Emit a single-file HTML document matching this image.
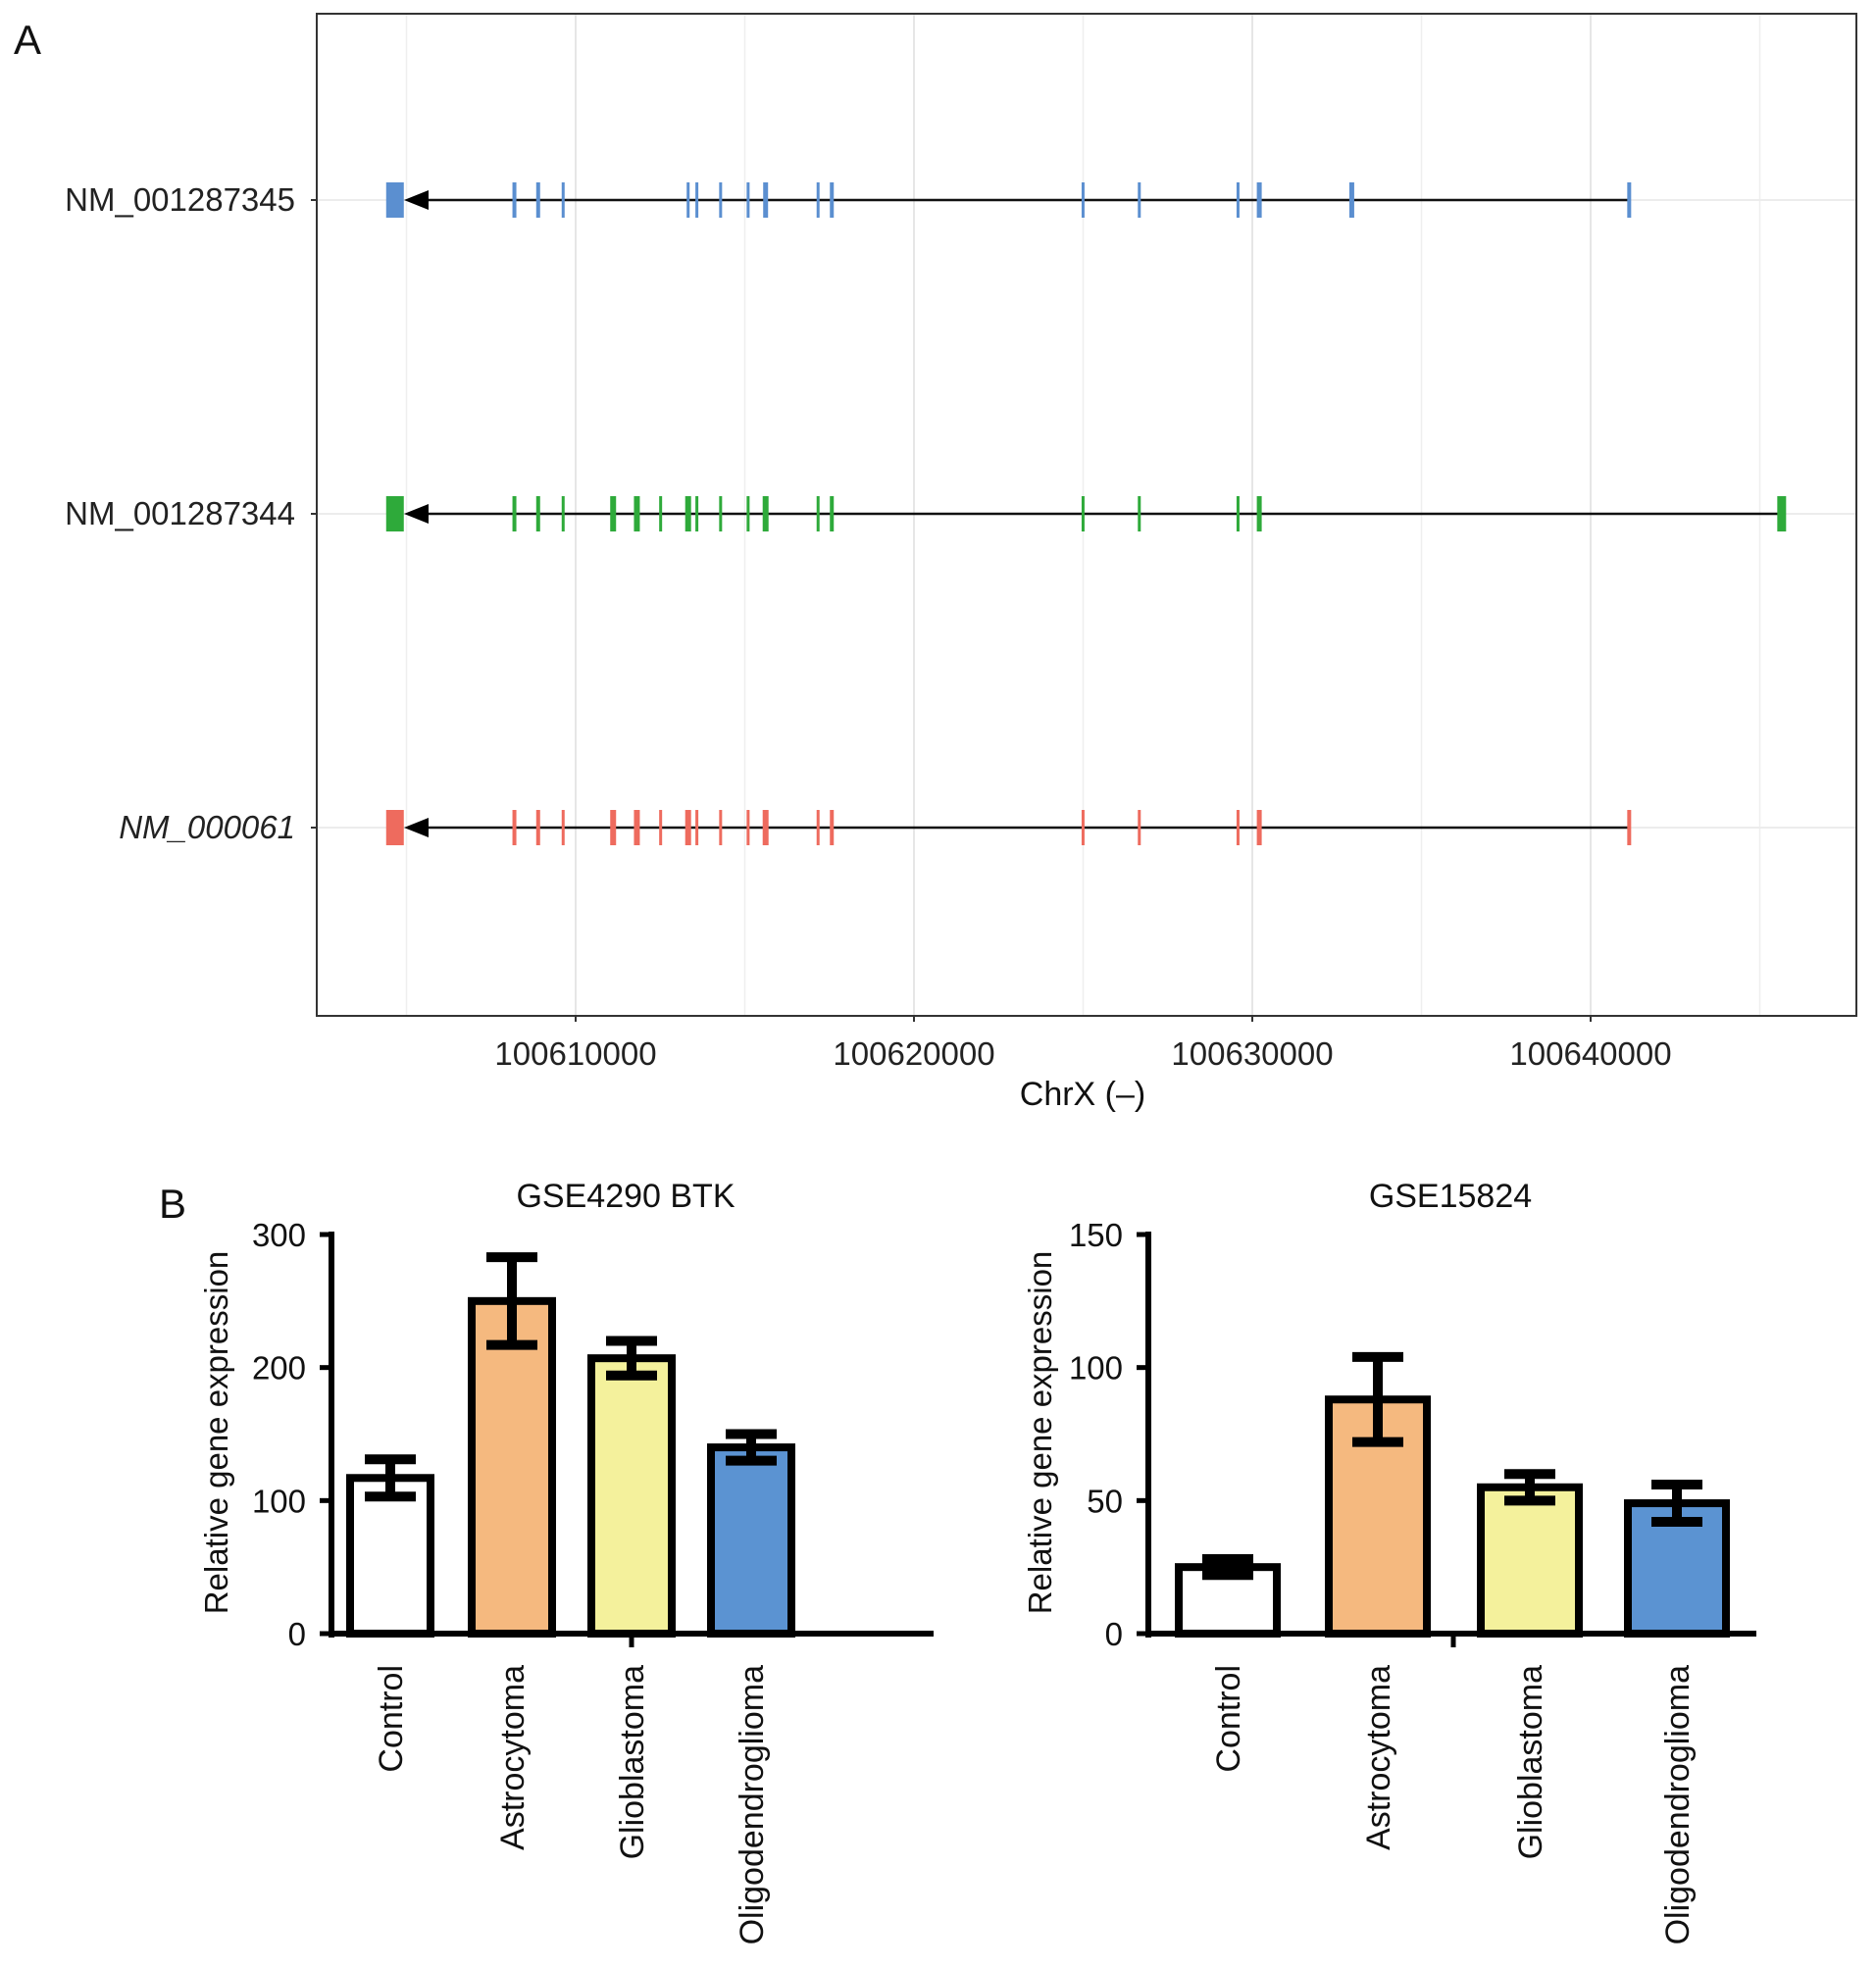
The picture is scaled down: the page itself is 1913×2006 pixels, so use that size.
<!DOCTYPE html>
<html><head><meta charset="utf-8"><style>
html,body{margin:0;padding:0;background:#fff}
svg{display:block;font-family:"Liberation Sans",Arial,sans-serif}
</style></head><body>
<svg id="fig" width="1913" height="2006" viewBox="0 0 1913 2006" xmlns="http://www.w3.org/2000/svg"></svg>
<script>
// ---- Panel A data ----
const transcripts = ["NM_001287345","NM_001287344","NM_000061"];
const trColors = ["#5b8fd0","#2eaa3a","#ee6b5e"];
const trStart = [100604406,100604406,100604406];
const trEnd = [100641140,100645647,100641140];
const exons0 = [100604660,100608190,100608892,100609631,100613325,100613583,100614285,100615098,100615615,100617166,100617572,100624998,100626660,100629578,100630206,100632940,100641140];
const exons1 = [100604660,100608190,100608892,100609631,100611108,100611810,100612512,100613325,100613583,100614285,100615098,100615615,100617166,100617572,100624998,100626660,100629578,100630206,100645647];
const exons2 = [100604660,100608190,100608892,100609631,100611108,100611810,100612512,100613325,100613583,100614285,100615098,100615615,100617166,100617572,100624998,100626660,100629578,100630206,100641140];
const exonW0 = [18,4,4,3,3,3,3,3,5,3,4,3,3,3,5,5,4];
const exonW1 = [18,4,4,3,6,6,3,6,3,3,3,6,3,4,3,3,3,5,9];
const exonW2 = [18,4,4,3,6,6,3,6,3,3,3,6,3,4,3,3,3,5,4];
const xTicks = [100610000,100620000,100630000,100640000];

// ---- Panel B data ----
const categories = ["Control","Astrocytoma","Glioblastoma","Oligodendroglioma"];
const barColors = ["#ffffff","#f5b97f","#f4f19c","#5b93d2"];
const gse4290Values = [117,250,207,140];
const gse4290Errors = [14,33,13,10];
const gse4290Ticks = [0,100,200,300];
const gse15824Values = [25,88,55,49];
const gse15824Errors = [3,16,5,7];
const gse15824Ticks = [0,50,100,150];

const NS="http://www.w3.org/2000/svg";
const svg=document.getElementById('fig');
function mk(tag,attrs,parent,text){const e=document.createElementNS(NS,tag);for(const k in attrs)e.setAttribute(k,attrs[k]);if(text!==undefined)e.textContent=text;(parent||svg).appendChild(e);return e;}

// Panel A
const ax0=323, ax1=1893, ay0=14, ay1=1036;
const xs = bp => 587 + (bp-100610000)*0.0345;
const rowY=[204,524,844];
const lblA=mk('text',{x:28,y:55,'font-size':42,fill:'#111','text-anchor':'middle'},svg,'A');

for(let v=100605000; v<100650000; v+=10000){const g=mk('line',{x1:xs(v),x2:xs(v),y1:ay0,y2:ay1,stroke:'#efefef','stroke-width':1.5});}
xTicks.forEach(v=>{const g=mk('line',{x1:xs(v),x2:xs(v),y1:ay0,y2:ay1,stroke:'#e6e6e6','stroke-width':2});});
rowY.forEach(y=>{const g=mk('line',{x1:ax0,x2:ax1,y1:y,y2:y,stroke:'#ececec','stroke-width':2});});
const frame=mk('rect',{x:ax0,y:ay0,width:ax1-ax0,height:ay1-ay0,fill:'none',stroke:'#333','stroke-width':2});

const exonSets=[exons0,exons1,exons2], exonWs=[exonW0,exonW1,exonW2];
transcripts.forEach((t,i)=>{
  const y=rowY[i];
  const g=mk('g',{});
  const ln=mk('line',{x1:xs(trStart[i])+30,x2:xs(trEnd[i]),y1:y,y2:y,stroke:'#111','stroke-width':2.5},g);
  
  const ar=mk('polygon',{points:`${xs(trStart[i])+18},${y} ${xs(trStart[i])+43},${y-10} ${xs(trStart[i])+43},${y+10}`,fill:'#000'},g);
  
  exonSets[i].forEach((e,j)=>{const w=exonWs[i][j];
    const r=mk('rect',{x:xs(e)-w/2,y:y-18,width:w,height:36,fill:trColors[i]},g);
    });
  const tk=mk('line',{x1:ax0-6,x2:ax0,y1:y,y2:y,stroke:'#333','stroke-width':2});
  
  const lb=mk('text',{x:ax0-22,y:y+11,'font-size':33,fill:'#222','text-anchor':'end','font-style':i==2?'italic':'normal'},svg,t);
  
});
xTicks.forEach(v=>{
  const tk=mk('line',{x1:xs(v),x2:xs(v),y1:ay1,y2:ay1+6,stroke:'#333','stroke-width':2});
  
  const lb=mk('text',{x:xs(v),y:ay1+50,'font-size':33,fill:'#222','text-anchor':'middle'},svg,String(v));
  
});
const xt=mk('text',{x:1104,y:1127,'font-size':34,fill:'#111','text-anchor':'middle'},svg,'ChrX (–)');


// Panel B
const lblB=mk('text',{x:176,y:1242,'font-size':42,fill:'#111','text-anchor':'middle'},svg,'B');

function barChart(name,title,titleX,axX,axEnd,centers,bw,vals,errs,ticks,maxV,tickMarkX,ytitleX){
  const y0=1666,yTop=1259;
  const ys=v=>y0-(v/maxV)*(y0-yTop);
  const g=mk('g',{});
  const tt=mk('text',{x:titleX,y:1231,'font-size':34,fill:'#111','text-anchor':'middle'},g,title);
  
  vals.forEach((v,i)=>{
    const cx=centers[i];
    const b=mk('rect',{x:cx-bw/2+4,y:ys(v),width:bw-8,height:y0-ys(v),fill:barColors[i],stroke:'#000','stroke-width':8},g);
    
    const e=errs[i];
    const eg=mk('path',{d:`M${cx},${ys(v+e)}V${ys(v-e)}M${cx-26},${ys(v+e)}H${cx+26}M${cx-26},${ys(v-e)}H${cx+26}`,stroke:'#000','stroke-width':10,fill:'none'},g);
    
    const cl=mk('text',{transform:`translate(${cx+12},1698) rotate(-90)`,'font-size':34,fill:'#111','text-anchor':'end'},g,categories[i]);
    
  });
  const ya=mk('line',{x1:axX,x2:axX,y1:yTop-3,y2:y0+4,stroke:'#000','stroke-width':6},g);
  
  const xa=mk('line',{x1:axX-3,x2:axEnd,y1:y0,y2:y0,stroke:'#000','stroke-width':6},g);
  
  const xm=mk('line',{x1:tickMarkX,x2:tickMarkX,y1:y0,y2:y0+14,stroke:'#000','stroke-width':5},g);
  
  ticks.forEach(t=>{
    const tk=mk('line',{x1:axX-12,x2:axX,y1:ys(t),y2:ys(t),stroke:'#000','stroke-width':5},g);
    
    const tl=mk('text',{x:axX-26,y:ys(t)+12,'font-size':33,fill:'#111','text-anchor':'end'},g,String(t));
    
  });
  const yt=mk('text',{transform:`translate(${ytitleX},1461) rotate(-90)`,'font-size':33,fill:'#111','text-anchor':'middle'},g,'Relative gene expression');
  
}
barChart('gse4290-chart','GSE4290 BTK',638,338,952,[398,522,644,766],90,gse4290Values,gse4290Errors,gse4290Ticks,300,644,232);
barChart('gse15824-chart','GSE15824',1479,1171,1791,[1252,1405,1560,1710],108,gse15824Values,gse15824Errors,gse15824Ticks,150,1482,1072);
</script>
</body></html>
